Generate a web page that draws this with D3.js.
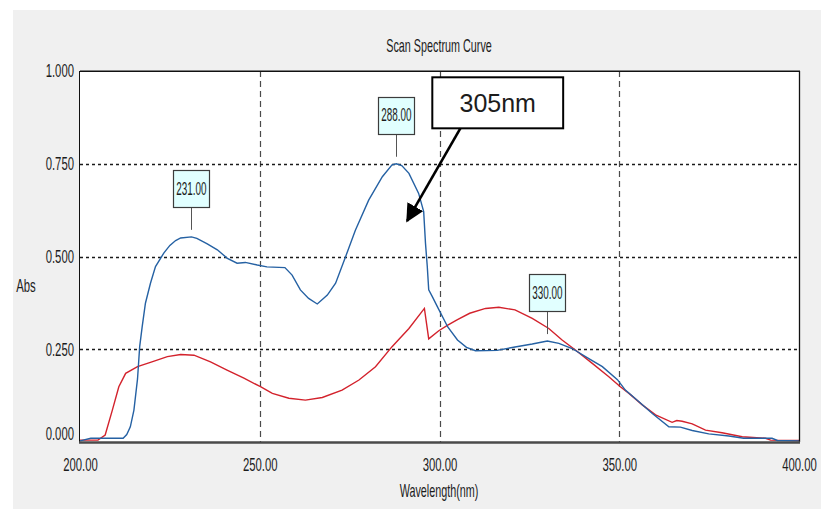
<!DOCTYPE html>
<html>
<head>
<meta charset="utf-8">
<script src="https://cdn.jsdelivr.net/npm/d3@7/dist/d3.min.js"></script>
<style>
  html, body { margin: 0; padding: 0; background: #ffffff; }
  svg { display: block; }
  text { font-family: "Liberation Sans", Arial, sans-serif; fill: #1c1c1c; }
</style>
</head>
<body>
<svg id="chart" width="821" height="509"></svg>
<script>
// ---- data ----
const xTicks = [200, 250, 300, 350, 400];
const yTicks = [0, 0.25, 0.5, 0.75, 1.0];

// sample A (blue trace): wavelength (nm) / absorbance
const blueWl = [200, 203, 212, 213, 214, 215, 216, 216.6, 217.3, 218.2, 219.6, 221, 223.3, 225, 226.6, 228, 231, 232.5,
  235.4, 238.2, 241, 243.7, 246, 249.3, 252, 257, 259, 261.3, 263.6, 266, 268.8, 271.1, 273.9, 276.6, 280.3, 284.1,
  286.8, 288, 289.5, 291.5, 294.2, 295.6, 296.1, 296.6, 297, 298, 299.4, 302.3, 305, 307.5, 310, 316, 321, 325.8, 330,
  333.2, 336.9, 340.6, 345.3, 349.5, 351.7, 355.4, 359.2, 363.8, 367, 370.3, 374.9, 380.5, 384.6, 392.5, 394, 400];
const blueAbs = [0.003, 0.01, 0.01, 0.02, 0.041, 0.086, 0.17, 0.257, 0.311, 0.374, 0.428, 0.473, 0.509, 0.53, 0.543, 0.55, 0.553, 0.549,
  0.534, 0.518, 0.495, 0.482, 0.484, 0.477, 0.472, 0.47, 0.45, 0.41, 0.387, 0.372, 0.396, 0.428, 0.5, 0.571, 0.652, 0.715,
  0.747, 0.75, 0.745, 0.724, 0.67, 0.621, 0.536, 0.473, 0.41, 0.392, 0.365, 0.31, 0.275, 0.255, 0.246, 0.247, 0.256, 0.264, 0.272,
  0.266, 0.252, 0.23, 0.203, 0.168, 0.14, 0.109, 0.077, 0.041, 0.04, 0.031, 0.022, 0.016, 0.01, 0.01, 0.004, 0.003];

// sample B (red trace)
const redWl = [200, 205, 207, 209, 210.8, 212.7, 216, 220, 224.3, 228, 231.7, 236.3, 240.9, 245.6, 250.2, 253.5, 258.1,
  262.7, 267.4, 272.9, 277.6, 282.2, 286.8, 291.5, 295.8, 297, 299.8, 302.3, 305, 308.4, 312.8, 316.5, 321, 325.8, 330.4,
  334.1, 337.8, 342.5, 347.1, 350.3, 352.7, 356.4, 360.1, 364.7, 366, 367.5, 370.3, 374, 378.6, 384.2, 390.7, 392.1, 400];
const redAbs = [0.005, 0.005, 0.019, 0.086, 0.149, 0.185, 0.203, 0.216, 0.23, 0.236, 0.234, 0.216, 0.194, 0.172, 0.149, 0.131, 0.118,
  0.113, 0.12, 0.14, 0.167, 0.203, 0.257, 0.306, 0.36, 0.278, 0.3, 0.315, 0.33, 0.347, 0.36, 0.363, 0.356, 0.333, 0.306,
  0.275, 0.248, 0.212, 0.176, 0.149, 0.131, 0.1, 0.073, 0.053, 0.058, 0.056, 0.049, 0.032, 0.025, 0.014, 0.01, 0.005, 0.004];

// peak markers on the blue trace
const peakWl = [231, 288, 330];
const peakAbs = [0.553, 0.75, 0.272];
const peakLabels = ["231.00", "288.00", "330.00"];

// callout: box corners and arrow, in data units
const calloutText = "305nm";
const calloutBox = { wl0: 298, wl1: 334.4, abs0: 0.8455, abs1: 0.983 };
const calloutArrow = { fromWl: 305.8, fromAbs: 0.8455, toWl: 291.0, toAbs: 0.596 };

// ---- layout ----
const svg = d3.select("#chart");
const W = 821, H = 509;
const plot = { left: 80, right: 799, top: 71, bottom: 442 };
const SX = 0.63; // horizontal squeeze for the narrow window font

const x = d3.scaleLinear().domain([200, 400]).range([plot.left, plot.right]);
const y = d3.scaleLinear().domain([0, 1]).range([plot.bottom, plot.top]);

// window background
svg.append("rect").attr("x", 0).attr("y", 0).attr("width", W).attr("height", H).attr("fill", "#ffffff");
svg.append("rect").attr("x", 13).attr("y", 10).attr("width", W - 13).attr("height", H - 10).attr("fill", "#f0f0f0");

// plot area
svg.append("rect")
  .attr("x", plot.left).attr("y", plot.top)
  .attr("width", plot.right - plot.left).attr("height", plot.bottom - plot.top)
  .attr("fill", "#ffffff");

// grid
const grid = svg.append("g");
grid.selectAll("line.v").data(xTicks.slice(1, -1)).join("line")
  .attr("x1", d => Math.round(x(d)) + 0.5).attr("x2", d => Math.round(x(d)) + 0.5)
  .attr("y1", plot.top).attr("y2", plot.bottom)
  .attr("stroke", "#4a4a4a").attr("stroke-width", 1.2).attr("stroke-dasharray", "6,4");
grid.selectAll("line.h").data(yTicks.slice(1, -1)).join("line")
  .attr("x1", plot.left).attr("x2", plot.right)
  .attr("y1", d => Math.round(y(d)) + 0.5).attr("y2", d => Math.round(y(d)) + 0.5)
  .attr("stroke", "#1a1a1a").attr("stroke-width", 1.6).attr("stroke-dasharray", "3,3");

// traces
const defs = svg.append("defs");
defs.append("clipPath").attr("id", "plotClip").append("rect")
  .attr("x", plot.left).attr("y", plot.top - 2)
  .attr("width", plot.right - plot.left).attr("height", plot.bottom - plot.top + 2);

const line = d3.line().x(d => x(d[0])).y(d => y(d[1]));
const traces = svg.append("g").attr("clip-path", "url(#plotClip)");
traces.append("path").datum(d3.zip(redWl, redAbs))
  .attr("d", line).attr("fill", "none").attr("stroke", "#d3222c").attr("stroke-width", 1.4);
traces.append("path").datum(d3.zip(blueWl, blueAbs))
  .attr("d", line).attr("fill", "none").attr("stroke", "#2561a3").attr("stroke-width", 1.4);

// frame
const frame = svg.append("g").attr("fill", "none");
frame.append("line").attr("x1", plot.left).attr("x2", plot.right + 1).attr("y1", plot.top - 0.5).attr("y2", plot.top - 0.5)
  .attr("stroke", "#808080").attr("stroke-width", 1);
frame.append("line").attr("x1", plot.left).attr("x2", plot.right + 1).attr("y1", plot.top + 0.5).attr("y2", plot.top + 0.5)
  .attr("stroke", "#111").attr("stroke-width", 1);
frame.append("line").attr("x1", plot.left - 0.5).attr("x2", plot.left - 0.5).attr("y1", plot.top).attr("y2", plot.bottom)
  .attr("stroke", "#111").attr("stroke-width", 1);
frame.append("line").attr("x1", plot.right + 0.5).attr("x2", plot.right + 0.5).attr("y1", plot.top).attr("y2", plot.bottom)
  .attr("stroke", "#111").attr("stroke-width", 1.3);
frame.append("line").attr("x1", plot.left - 1).attr("x2", plot.right + 1).attr("y1", plot.bottom + 0.5).attr("y2", plot.bottom + 0.5)
  .attr("stroke", "#4a4a4a").attr("stroke-width", 2.4);

// axes (labels only; frame and grid are drawn above)
const fmt2 = d3.format(".2f"), fmt3 = d3.format(".3f");
const yAxis = svg.append("g").attr("transform", `translate(${plot.left},0)`)
  .call(d3.axisLeft(y).tickValues(yTicks).tickFormat(fmt3).tickSize(0).tickPadding(6 / SX));
const xAxis = svg.append("g").attr("transform", `translate(0,${plot.bottom})`)
  .call(d3.axisBottom(x).tickValues(xTicks).tickFormat(fmt2).tickSize(0).tickPadding(14));
[yAxis, xAxis].forEach(a => {
  a.select(".domain").remove();
  a.selectAll("text")
    .attr("font-size", 18).attr("font-family", "Liberation Sans, Arial, sans-serif")
    .attr("fill", "#1c1c1c")
    .attr("transform", `scale(${SX},1)`);
});
xAxis.selectAll("text").attr("dy", "0.36em").attr("y", 23);
// the zero label sits just above the bottom edge of the frame
yAxis.selectAll(".tick").filter(d => d === 0).select("text").attr("y", -8);

// narrow text helper
function ntext(g, px, py, str, size, anchor, sx) {
  return g.append("text")
    .attr("transform", `translate(${px},${py}) scale(${sx || SX},1)`)
    .attr("text-anchor", anchor || "middle")
    .attr("dominant-baseline", "central")
    .attr("font-size", size)
    .text(str);
}
ntext(svg, 439, 46, "Scan Spectrum Curve", 18, "middle", 0.6);
ntext(svg, 26, 285, "Abs", 18, "middle");
ntext(svg, 439, 491, "Wavelength(nm)", 18, "middle", 0.6);

// peak markers
const marks = svg.append("g");
peakWl.forEach((wl, i) => {
  const px = x(wl), py = y(peakAbs[i]);
  const bw = 36, bh = 37;
  const bottom = py - 30;
  marks.append("line")
    .attr("x1", Math.round(px) + 0.5).attr("x2", Math.round(px) + 0.5)
    .attr("y1", bottom).attr("y2", py - 7)
    .attr("stroke", "#555").attr("stroke-width", 1);
  marks.append("rect")
    .attr("x", Math.round(px - bw / 2) + 0.5).attr("y", Math.round(bottom - bh) + 0.5)
    .attr("width", bw).attr("height", bh)
    .attr("fill", "#e1ffff").attr("stroke", "#3c3c3c").attr("stroke-width", 1.2);
  ntext(marks, px, bottom - bh / 2, peakLabels[i], 18, "middle", 0.55);
});

// callout box with arrow
const call = svg.append("g");
defs.append("marker").attr("id", "arrowHead")
  .attr("viewBox", "0 0 10 10").attr("refX", 9).attr("refY", 5)
  .attr("markerWidth", 7).attr("markerHeight", 7).attr("markerUnits", "strokeWidth")
  .attr("orient", "auto")
  .append("path").attr("d", "M0,0 L10,5 L0,10 Z").attr("fill", "#000");
call.append("rect")
  .attr("x", x(calloutBox.wl0)).attr("y", y(calloutBox.abs1))
  .attr("width", x(calloutBox.wl1) - x(calloutBox.wl0))
  .attr("height", y(calloutBox.abs0) - y(calloutBox.abs1))
  .attr("fill", "#ffffff").attr("stroke", "#000").attr("stroke-width", 2);
call.append("text")
  .attr("x", (x(calloutBox.wl0) + x(calloutBox.wl1)) / 2)
  .attr("y", (y(calloutBox.abs0) + y(calloutBox.abs1)) / 2)
  .attr("text-anchor", "middle").attr("dominant-baseline", "central")
  .attr("font-family", "Noto Sans, Open Sans, sans-serif").attr("font-size", 25)
  .attr("fill", "#000")
  .text(calloutText);
call.append("line")
  .attr("x1", x(calloutArrow.fromWl)).attr("y1", y(calloutArrow.fromAbs))
  .attr("x2", x(calloutArrow.toWl)).attr("y2", y(calloutArrow.toAbs))
  .attr("stroke", "#000").attr("stroke-width", 2.6)
  .attr("marker-end", "url(#arrowHead)");
</script>
</body>
</html>
